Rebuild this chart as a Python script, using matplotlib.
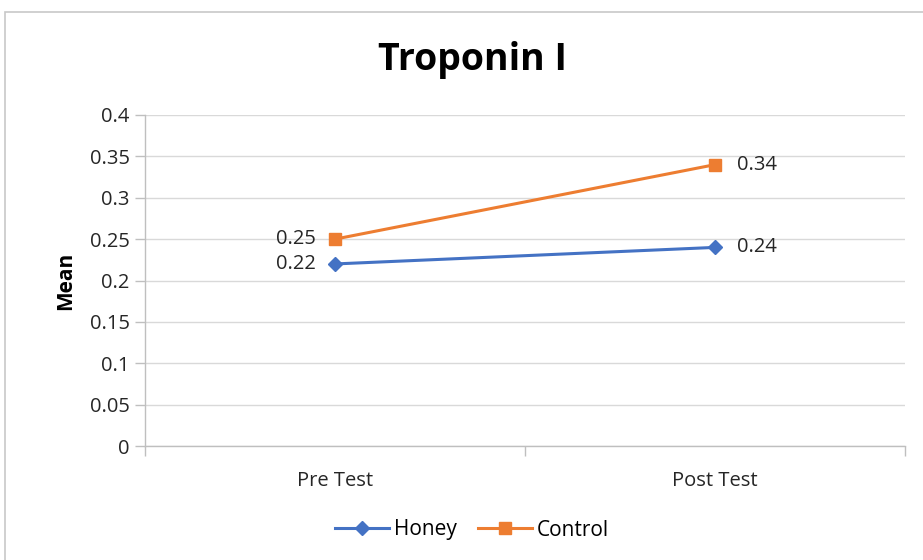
import matplotlib
matplotlib.use("Agg")
import matplotlib.pyplot as plt
from matplotlib.patches import Rectangle
from matplotlib.lines import Line2D

categories = ["Pre Test", "Post Test"]
honey = [0.22, 0.24]
control = [0.25, 0.34]
yticks = [0, 0.05, 0.1, 0.15, 0.2, 0.25, 0.3, 0.35, 0.4]
ytick_labels = ["0", "0.05", "0.1", "0.15", "0.2", "0.25", "0.3", "0.35", "0.4"]

plt.rcParams['font.family'] = ['Open Sans', 'DejaVu Sans']

fig = plt.figure(figsize=(9.23, 5.6), dpi=100)
fig.patches.append(Rectangle((5/923, -0.05), 1.1, 0.05 + 1 - 12/560, transform=fig.transFigure,
                             fill=False, edgecolor="#c8c8c8", linewidth=1.2))
ax = fig.add_axes([145/923, 1 - 446/560, 760/923, 331/560])

x = list(range(len(categories)))
blue = "#4472C4"
orange = "#ED7D31"
ax.plot(x, honey, color=blue, linewidth=2.2, marker="D", markersize=7, label="Honey", zorder=3)
ax.plot(x, control, color=orange, linewidth=2.2, marker="s", markersize=8, label="Control", zorder=3)

ax.set_xlim(-0.5, 1.5)
ax.set_ylim(0, 0.4)
ax.set_yticks(yticks)
ax.set_yticklabels(ytick_labels)
ax.set_xticks(x)
ax.set_xticklabels(categories)
ax.set_xticks([-0.5, 0.5, 1.5], minor=True)
ax.tick_params(axis="x", which="major", length=0, pad=18, labelsize=14.5)
ax.tick_params(axis="x", which="minor", length=7, color="#bfbfbf", width=1)
ax.tick_params(axis="y", length=7, color="#bfbfbf", width=1, labelsize=14.5, pad=4)
for lab in ax.get_xticklabels() + ax.get_yticklabels():
    lab.set_color("#262626")

ax.grid(axis="y", color="#d9d9d9", linewidth=1)
ax.set_axisbelow(True)
for s in ["top", "right"]:
    ax.spines[s].set_visible(False)
for s in ["left", "bottom"]:
    ax.spines[s].set_color("#bfbfbf")
    ax.spines[s].set_linewidth(1)

# data labels
lab_kw = dict(textcoords="offset points", va="center", fontsize=14.5, color="#262626")
ax.annotate(f"{honey[0]:.2f}", (x[0], honey[0]), xytext=(-14, 0), ha="right", **lab_kw)
ax.annotate(f"{control[0]:.2f}", (x[0], control[0]), xytext=(-14, 0), ha="right", **lab_kw)
ax.annotate(f"{honey[1]:.2f}", (x[1], honey[1]), xytext=(16, 0), ha="left", **lab_kw)
ax.annotate(f"{control[1]:.2f}", (x[1], control[1]), xytext=(16, 0), ha="left", **lab_kw)

ax.set_ylabel("Mean", fontsize=15, fontweight="bold", labelpad=10)

fig.text(473/923, 1 - 60/560, "Troponin I", ha="center", va="center", fontsize=27, fontweight="bold")

leg = fig.legend(handles=[Line2D([], [], color=blue, marker="D", markersize=7, linewidth=2.2, label="Honey"),
                          Line2D([], [], color=orange, marker="s", markersize=8, linewidth=2.2, label="Control")],
                 loc="center", bbox_to_anchor=(472/923, 1 - 530/560), ncol=2, frameon=False,
                 fontsize=15, handlelength=2.6, columnspacing=1.0, handletextpad=0.25)

fig.savefig("out.png", dpi=100)
